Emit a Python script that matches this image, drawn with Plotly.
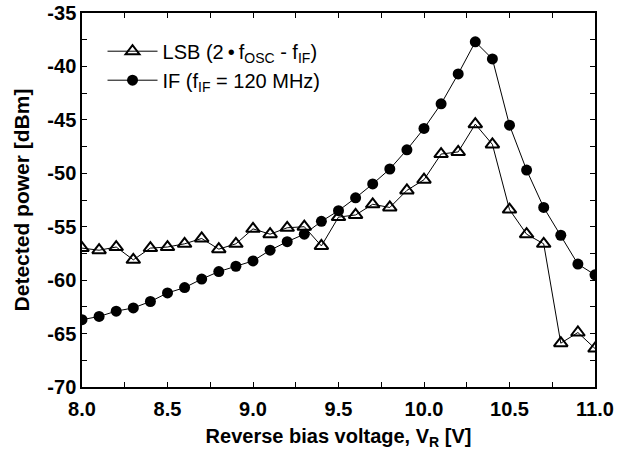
import plotly.graph_objects as go

voltage = [8.0, 8.1, 8.2, 8.3, 8.4, 8.5, 8.6, 8.7, 8.8, 8.9, 9.0, 9.1, 9.2, 9.3, 9.4, 9.5,
           9.6, 9.7, 9.8, 9.9, 10.0, 10.1, 10.2, 10.3, 10.4, 10.5, 10.6, 10.7, 10.8, 10.9, 11.0]

lsb_power = [-57.0, -57.2, -56.9, -58.1, -57.0, -56.9, -56.6, -56.1, -57.1, -56.6, -55.2,
             -55.7, -55.1, -55.0, -56.8, -54.1, -53.9, -52.9, -53.2, -51.6, -50.6, -48.2,
             -48.0, -45.4, -47.3, -53.4, -55.7, -56.6, -65.9, -64.9, -66.4]

if_power = [-63.7, -63.4, -62.9, -62.6, -62.0, -61.2, -60.7, -59.9, -59.2, -58.7, -58.2,
            -57.2, -56.4, -55.7, -54.5, -53.5, -52.3, -51.0, -49.6, -47.8, -45.8, -43.5,
            -40.7, -37.7, -39.3, -45.5, -49.7, -53.2, -55.8, -58.5, -59.5]

y_tick_vals = [-35, -40, -45, -50, -55, -60, -65, -70]
y_tick_text = ["-35", "-40", "-45", "-50", "-55", "-60", "-65", "-70"]
x_tick_vals = [8.0, 8.5, 9.0, 9.5, 10.0, 10.5, 11.0]
x_tick_text = ["8.0", "8.5", "9.0", "9.5", "10.0", "10.5", "11.0"]

FONT = "Liberation Sans, Arial, sans-serif"

fig = go.Figure()
fig.add_trace(go.Scatter(
    x=voltage, y=lsb_power, mode="lines+markers",
    name="LSB (2\u2009\u2022\u2009f<sub>OSC</sub> - f<sub>IF</sub>)",
    line=dict(color="black", width=1),
    marker=dict(symbol="triangle-up-open", size=12, color="black", line=dict(width=2, color="black")),
))
fig.add_trace(go.Scatter(
    x=voltage, y=if_power, mode="lines+markers",
    name="IF (f<sub>IF</sub> = 120 MHz)",
    line=dict(color="black", width=1),
    marker=dict(symbol="circle", size=11, color="black"),
))

axis_common = dict(
    showline=True, linecolor="black", linewidth=1.5, mirror="ticks",
    ticks="inside", ticklen=5, tickwidth=1.2, tickcolor="black",
    showgrid=False, zeroline=False, automargin=False, ticklabeloverflow="allow",
    tickfont=dict(family=FONT, size=20, color="black", weight="bold"),
)

fig.update_xaxes(
    range=[8.0, 11.0], tickmode="array", tickvals=x_tick_vals, ticktext=x_tick_text,
    ticklabelstandoff=3,
    title=dict(text="Reverse bias voltage, V<sub>R</sub> [V]",
               font=dict(family=FONT, size=20, color="black", weight="bold"), standoff=10),
    minor=dict(ticks="inside", dtick=0.25, ticklen=5, tickcolor="black", tickwidth=1),
    **axis_common,
)
fig.update_yaxes(
    range=[-70, -35], tickmode="array", tickvals=y_tick_vals, ticktext=y_tick_text,
    title=dict(text="Detected power [dBm]",
               font=dict(family=FONT, size=21, color="black", weight="bold"), standoff=12),
    minor=dict(ticks="inside", dtick=2.5, ticklen=5, tickcolor="black", tickwidth=1),
    **axis_common,
)

fig.update_layout(
    width=628, height=450,
    margin=dict(l=82, r=33, t=13, b=63),
    paper_bgcolor="white", plot_bgcolor="white",
    font=dict(family=FONT, color="black"),
    legend=dict(x=0.04, y=0.95, xanchor="left", yanchor="top",
                bgcolor="rgba(0,0,0,0)", font=dict(family=FONT, size=20, color="black"),
                tracegroupgap=0, itemwidth=50),
    showlegend=True,
)

# remove the browser's default 8px page margin so the figure sits at the window origin
fig.write_html("out.html", config={"displayModeBar": False},
               post_script="document.body.style.margin='0px';")
